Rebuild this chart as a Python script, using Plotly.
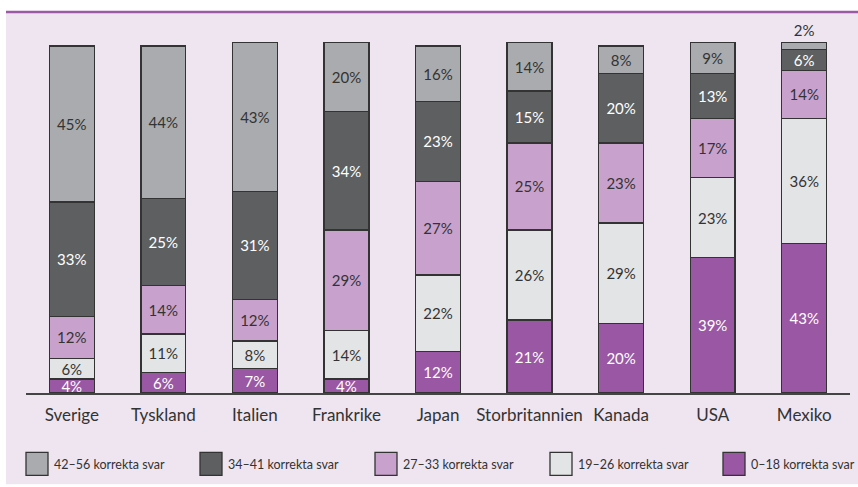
import plotly.graph_objects as go

# Andel elever per antal korrekta svar, per land (procent)
countries = ["Sverige", "Tyskland", "Italien", "Frankrike", "Japan",
             "Storbritannien", "Kanada", "USA", "Mexiko"]
s0_18 = [4, 6, 7, 4, 12, 21, 20, 39, 43]
s19_26 = [6, 11, 8, 14, 22, 26, 29, 23, 36]
s27_33 = [12, 14, 12, 29, 27, 25, 23, 17, 14]
s34_41 = [33, 25, 31, 34, 23, 15, 20, 13, 6]
s42_56 = [45, 44, 43, 20, 16, 14, 8, 9, 2]

series_names = ["0–18 korrekta svar", "19–26 korrekta svar", "27–33 korrekta svar",
                "34–41 korrekta svar", "42–56 korrekta svar"]
series_values = [s0_18, s19_26, s27_33, s34_41, s42_56]
colors = ["#9A57A3", "#E3E4E5", "#C8A2CD", "#5E5F61", "#AAABAE"]
text_colors = ["white", "#333333", "#333333", "white", "#333333"]

FONT = "Lato, 'Open Sans', sans-serif"
W, H = 858, 487
ML, MR, MT, MB = 26, 8, 32, 93.5
PW, PH = W - ML - MR, H - MT - MB


def px_x(p):
    return (p - ML) / PW


def px_y(p):
    return (H - MB - p) / PH


fig = go.Figure()
for name, vals, col, tcol in zip(series_names, series_values, colors, text_colors):
    is_top = name.startswith("42")
    positions = ["outside" if (is_top and v < 4) else "inside" for v in vals]
    fig.add_trace(go.Bar(
        x=countries, y=vals, name=name,
        marker=dict(color=col, line=dict(color="#333333", width=1.3)),
        width=0.49,
        text=[f"{v}%" for v in vals],
        textposition=positions,
        insidetextanchor="middle",
        textangle=0,
        insidetextfont=dict(family=FONT, size=15, color=tcol),
        outsidetextfont=dict(family=FONT, size=15, color="#333333"),
        cliponaxis=False,
        showlegend=False,
        hoverinfo="skip",
    ))

shapes = [
    # lavender panel
    dict(type="rect", xref="paper", yref="paper", layer="below",
         x0=px_x(6), x1=px_x(858), y0=px_y(485), y1=px_y(13),
         fillcolor="#EEE5F1", line=dict(width=0)),
    # purple rule above the panel
    dict(type="line", xref="paper", yref="paper",
         x0=px_x(6), x1=px_x(858), y0=px_y(12), y1=px_y(12),
         line=dict(color="#9B59A6", width=2.5)),
]
annotations = [
    # heading runs off the top of the page; only its descenders show
    dict(text="Resultat i räkning applicerad", xref="paper", yref="paper",
         x=px_x(8), y=1, xanchor="left", yanchor="bottom", yshift=MT - 2,
         showarrow=False, font=dict(family=FONT, size=17, color="#333333")),
]

# legend: swatches with labels along the bottom
legend_order = [4, 3, 2, 1, 0]
legend_x = [26, 200, 375, 550, 723]
for idx, lx in zip(legend_order, legend_x):
    shapes.append(dict(type="rect", xref="paper", yref="paper",
                       x0=px_x(lx), x1=px_x(lx + 22), y0=px_y(476), y1=px_y(453),
                       fillcolor=colors[idx], line=dict(color="#333333", width=1.3)))
    annotations.append(dict(text=series_names[idx], xref="paper", yref="paper",
                            x=px_x(lx + 26), y=px_y(465), xanchor="left", yanchor="middle",
                            showarrow=False,
                            font=dict(family=FONT, size=12.5, color="#333333")))

fig.update_layout(
    width=W, height=H,
    margin=dict(l=ML, r=MR, t=MT, b=MB),
    barmode="stack",
    paper_bgcolor="white",
    plot_bgcolor="rgba(0,0,0,0)",
    uniformtext=dict(minsize=15, mode="show"),
    font=dict(family=FONT, color="#333333"),
    xaxis=dict(range=[-0.5, 8.5], showline=True, linecolor="#444444", linewidth=1.5,
               ticks="", ticklabelstandoff=6,
               tickfont=dict(family=FONT, size=17, color="#333333"),
               showgrid=False, zeroline=False, fixedrange=True),
    yaxis=dict(range=[0, 104], visible=False, showgrid=False, zeroline=False),
    shapes=shapes,
    annotations=annotations,
)

fig.write_html("out.html")
